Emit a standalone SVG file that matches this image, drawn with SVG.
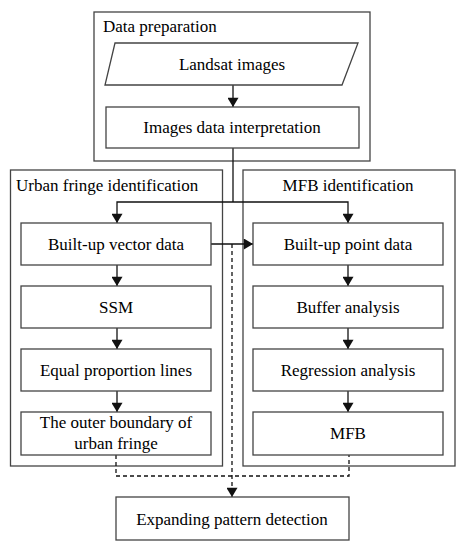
<svg xmlns="http://www.w3.org/2000/svg" width="465" height="550" viewBox="0 0 465 550">
<defs>
<marker id="ah" viewBox="0 0 10 12" refX="10" refY="6" markerWidth="11" markerHeight="11" markerUnits="userSpaceOnUse" orient="auto">
<path d="M0,0 L10,6 L0,12 z" fill="#111"/>
</marker>
</defs>
<rect width="465" height="550" fill="#fff"/>
<g id="group-data-preparation">
<rect x="94" y="12" width="276" height="149" fill="none" stroke="#444" stroke-width="1.3"/>
<text x="103" y="32" font-family="Times New Roman, Liberation Serif, serif" font-size="17">Data preparation</text>
</g>
<g id="group-urban-fringe">
<rect x="10.5" y="170" width="212" height="296" fill="none" stroke="#444" stroke-width="1.3"/>
<text x="16" y="191" font-family="Times New Roman, Liberation Serif, serif" font-size="17">Urban fringe identification</text>
</g>
<g id="group-mfb">
<rect x="243" y="170" width="212" height="296" fill="none" stroke="#444" stroke-width="1.3"/>
<text x="348" y="191" text-anchor="middle" font-family="Times New Roman, Liberation Serif, serif" font-size="17">MFB identification</text>
</g>
<g id="connectors" fill="none" stroke="#111" stroke-width="1.3">
<line x1="233" y1="85" x2="233" y2="107" marker-end="url(#ah)"/>
<polyline points="233,148 233,202"/>
<polyline points="233,202 117,202 117,223" marker-end="url(#ah)"/>
<polyline points="233,202 348,202 348,223" marker-end="url(#ah)"/>
<line x1="117" y1="265" x2="117" y2="286" marker-end="url(#ah)"/>
<line x1="117" y1="328" x2="117" y2="349" marker-end="url(#ah)"/>
<line x1="117" y1="391" x2="117" y2="412" marker-end="url(#ah)"/>
<line x1="348" y1="265" x2="348" y2="286" marker-end="url(#ah)"/>
<line x1="348" y1="328" x2="348" y2="349" marker-end="url(#ah)"/>
<line x1="348" y1="391" x2="348" y2="412" marker-end="url(#ah)"/>
<line x1="211" y1="244" x2="253" y2="244" marker-end="url(#ah)"/>
<line x1="232" y1="244" x2="232" y2="497" stroke-dasharray="4,3" marker-end="url(#ah)"/>
<polyline points="116,455 116,476 349,476 349,455" stroke-dasharray="4,3"/>
</g>
<g id="node-landsat">
<polygon points="115,43 358,43 342,85 105,85" fill="#fff" stroke="#444" stroke-width="1.3"/>
<text x="232" y="70" text-anchor="middle" font-family="Times New Roman, Liberation Serif, serif" font-size="17">Landsat images</text>
</g>
<g id="node-interpretation">
<rect x="106" y="107" width="253" height="41" fill="#fff" stroke="#444" stroke-width="1.3"/>
<text x="232" y="133" text-anchor="middle" font-family="Times New Roman, Liberation Serif, serif" font-size="17">Images data interpretation</text>
</g>
<g id="node-vector">
<rect x="21" y="223" width="190" height="42" fill="#fff" stroke="#444" stroke-width="1.3"/>
<text x="116" y="250" text-anchor="middle" font-family="Times New Roman, Liberation Serif, serif" font-size="17">Built-up vector data</text>
</g>
<g id="node-ssm">
<rect x="21" y="286" width="190" height="42" fill="#fff" stroke="#444" stroke-width="1.3"/>
<text x="116" y="313" text-anchor="middle" font-family="Times New Roman, Liberation Serif, serif" font-size="17">SSM</text>
</g>
<g id="node-equal">
<rect x="21" y="349" width="190" height="42" fill="#fff" stroke="#444" stroke-width="1.3"/>
<text x="116" y="376" text-anchor="middle" font-family="Times New Roman, Liberation Serif, serif" font-size="17">Equal proportion lines</text>
</g>
<g id="node-outer">
<rect x="21" y="412" width="190" height="43" fill="#fff" stroke="#444" stroke-width="1.3"/>
<text x="116" y="428" text-anchor="middle" font-family="Times New Roman, Liberation Serif, serif" font-size="17">The outer boundary of</text>
<text x="116" y="449" text-anchor="middle" font-family="Times New Roman, Liberation Serif, serif" font-size="17">urban fringe</text>
</g>
<g id="node-point">
<rect x="253" y="223" width="190" height="42" fill="#fff" stroke="#444" stroke-width="1.3"/>
<text x="348" y="250" text-anchor="middle" font-family="Times New Roman, Liberation Serif, serif" font-size="17">Built-up point data</text>
</g>
<g id="node-buffer">
<rect x="253" y="286" width="190" height="42" fill="#fff" stroke="#444" stroke-width="1.3"/>
<text x="348" y="313" text-anchor="middle" font-family="Times New Roman, Liberation Serif, serif" font-size="17">Buffer analysis</text>
</g>
<g id="node-regression">
<rect x="253" y="349" width="190" height="42" fill="#fff" stroke="#444" stroke-width="1.3"/>
<text x="348" y="376" text-anchor="middle" font-family="Times New Roman, Liberation Serif, serif" font-size="17">Regression analysis</text>
</g>
<g id="node-mfb">
<rect x="253" y="412" width="190" height="43" fill="#fff" stroke="#444" stroke-width="1.3"/>
<text x="348" y="439" text-anchor="middle" font-family="Times New Roman, Liberation Serif, serif" font-size="17">MFB</text>
</g>
<g id="node-expanding">
<rect x="116" y="497" width="233" height="43" fill="#fff" stroke="#444" stroke-width="1.3"/>
<text x="232" y="525" text-anchor="middle" font-family="Times New Roman, Liberation Serif, serif" font-size="17">Expanding pattern detection</text>
</g>
</svg>
